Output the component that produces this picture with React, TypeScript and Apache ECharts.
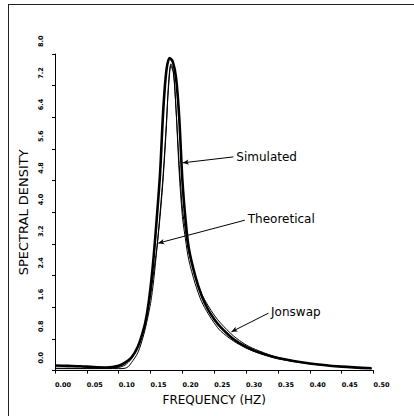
import { useEffect, useRef } from "react";
import * as echarts from "echarts";

// Frequencies (Hz) and spectral densities
const simFreq = [0.0, 0.02, 0.04, 0.06, 0.08, 0.09, 0.1, 0.11, 0.12, 0.13, 0.14, 0.145, 0.15, 0.155, 0.16, 0.165, 0.17, 0.175, 0.18, 0.185, 0.19, 0.195, 0.2, 0.205, 0.21, 0.22, 0.23, 0.24, 0.25, 0.26, 0.28, 0.3, 0.32, 0.35, 0.4, 0.45, 0.497];
const simVal = [0.13, 0.12, 0.11, 0.09, 0.08, 0.09, 0.12, 0.2, 0.33, 0.6, 1.1, 1.5, 2.1, 2.9, 3.9, 5.0, 6.6, 7.6, 7.9, 7.8, 7.4, 6.4, 4.8, 3.8, 3.1, 2.4, 1.9, 1.55, 1.3, 1.1, 0.8, 0.6, 0.46, 0.32, 0.18, 0.1, 0.06];

const theoFreq = [0.0, 0.05, 0.08, 0.1, 0.11, 0.12, 0.13, 0.14, 0.15, 0.155, 0.16, 0.165, 0.17, 0.175, 0.178, 0.182, 0.186, 0.19, 0.195, 0.2, 0.205, 0.21, 0.22, 0.23, 0.24, 0.25, 0.26, 0.28, 0.3, 0.32, 0.35, 0.4, 0.45, 0.497];
const theoVal = [0.06, 0.06, 0.06, 0.08, 0.14, 0.3, 0.6, 1.1, 1.9, 2.5, 3.1, 3.9, 4.9, 6.2, 7.2, 7.75, 7.55, 6.6, 5.0, 3.9, 3.3, 2.8, 2.2, 1.75, 1.45, 1.2, 1.0, 0.75, 0.57, 0.44, 0.3, 0.17, 0.1, 0.05];

const jonFreq = [0.0, 0.08, 0.1, 0.11, 0.115, 0.12, 0.13, 0.14, 0.15, 0.155, 0.16, 0.165, 0.17, 0.175, 0.178, 0.182, 0.186, 0.19, 0.195, 0.2, 0.205, 0.21, 0.22, 0.23, 0.24, 0.25, 0.26, 0.28, 0.3, 0.32, 0.35, 0.4, 0.45, 0.497];
const jonVal = [0.05, 0.05, 0.05, 0.06, 0.1, 0.2, 0.45, 0.95, 1.7, 2.3, 3.1, 4.0, 5.0, 6.3, 7.1, 7.7, 7.5, 6.6, 5.2, 4.1, 3.5, 3.0, 2.4, 1.95, 1.65, 1.4, 1.2, 0.88, 0.65, 0.5, 0.33, 0.18, 0.1, 0.05];

// Annotation leaders: [curve point, label point] in data units
const simLeader = [[0.2005, 5.25], [0.28, 5.4]];
const theoLeader = [[0.162, 3.22], [0.298, 3.8]];
const jonLeader = [[0.277, 0.98], [0.335, 1.45]];

const xTitle = "FREQUENCY (HZ)";
const yTitle = "SPECTRAL DENSITY";

const pairs = (xs: number[], ys: number[]) => xs.map((x, i) => [x, ys[i]]);

const leader = (pts: number[][], text: string) => ({
  silent: true,
  symbol: ["arrow", "none"],
  symbolSize: [4, 6],
  lineStyle: { color: "#000", width: 1, type: "solid" },
  label: {
    show: true,
    position: "end",
    distance: 3,
    formatter: text,
    color: "#000",
    fontFamily: "DejaVu Sans",
    fontSize: 12,
  },
  emphasis: { disabled: true },
  data: [[{ coord: pts[0] }, { coord: pts[1] }]],
});

export default function App() {
  const ref = useRef<HTMLDivElement>(null);
  useEffect(() => {
    document.body.style.margin = "0";
    const chart = echarts.init(ref.current!, null, { renderer: "svg" });
    const font = "DejaVu Sans";
    chart.setOption({
      animation: false,
      backgroundColor: "#fff",
      grid: { left: 55, right: 40.5, top: 54, bottom: 45.4 },
      xAxis: {
        type: "value",
        min: 0,
        max: 0.5,
        interval: 0.05,
        name: xTitle,
        nameLocation: "middle",
        nameGap: 22,
        nameTextStyle: { fontFamily: font, fontSize: 12, color: "#000" },
        axisLine: { lineStyle: { color: "#000", width: 1 } },
        axisTick: { show: true, length: 3, lineStyle: { color: "#000" } },
        splitLine: { show: false },
        axisLabel: {
          align: "left",
          margin: 11,
          fontSize: 6.5,
          fontWeight: "bold",
          fontFamily: font,
          color: "#000",
          formatter: (v: number) => v.toFixed(2),
        },
      },
      yAxis: {
        type: "value",
        min: 0,
        max: 8,
        interval: 0.8,
        name: yTitle,
        nameLocation: "middle",
        nameRotate: 90,
        nameGap: 24,
        nameTextStyle: { fontFamily: font, fontSize: 13, color: "#000" },
        axisLine: { show: true, lineStyle: { color: "#000", width: 1 } },
        axisTick: { show: true, length: 3, lineStyle: { color: "#000" } },
        splitLine: { show: false },
        axisLabel: {
          rotate: 90,
          align: "left",
          verticalAlign: "middle",
          margin: 14,
          padding: [0, 0, 0, 7],
          fontSize: 6.5,
          fontWeight: "bold",
          fontFamily: font,
          color: "#000",
          formatter: (v: number) => v.toFixed(1),
        },
      },
      series: [
        {
          name: "Simulated",
          type: "line",
          data: pairs(simFreq, simVal),
          smooth: 0.3,
          symbol: "none",
          lineStyle: { color: "#000", width: 2.6 },
          markLine: leader(simLeader, "Simulated"),
        },
        {
          name: "Theoretical",
          type: "line",
          data: pairs(theoFreq, theoVal),
          smooth: 0.3,
          symbol: "none",
          lineStyle: { color: "#000", width: 1 },
          markLine: leader(theoLeader, "Theoretical"),
        },
        {
          name: "Jonswap",
          type: "line",
          data: pairs(jonFreq, jonVal),
          smooth: 0.3,
          symbol: "none",
          lineStyle: { color: "#000", width: 1 },
          markLine: leader(jonLeader, "Jonswap"),
        },
      ],
    });
    return () => chart.dispose();
  }, []);
  return (
    <div style={{ position: "relative", width: 414, height: 416, overflow: "hidden" }}>
      <div ref={ref} style={{ width: 414, height: 416 }} />
      <div
        style={{
          position: "absolute",
          left: 8,
          top: 4,
          width: 420,
          height: 420,
          borderLeft: "1.5px solid #222",
          borderTop: "1.5px solid #222",
          pointerEvents: "none",
        }}
      />
    </div>
  );
}
